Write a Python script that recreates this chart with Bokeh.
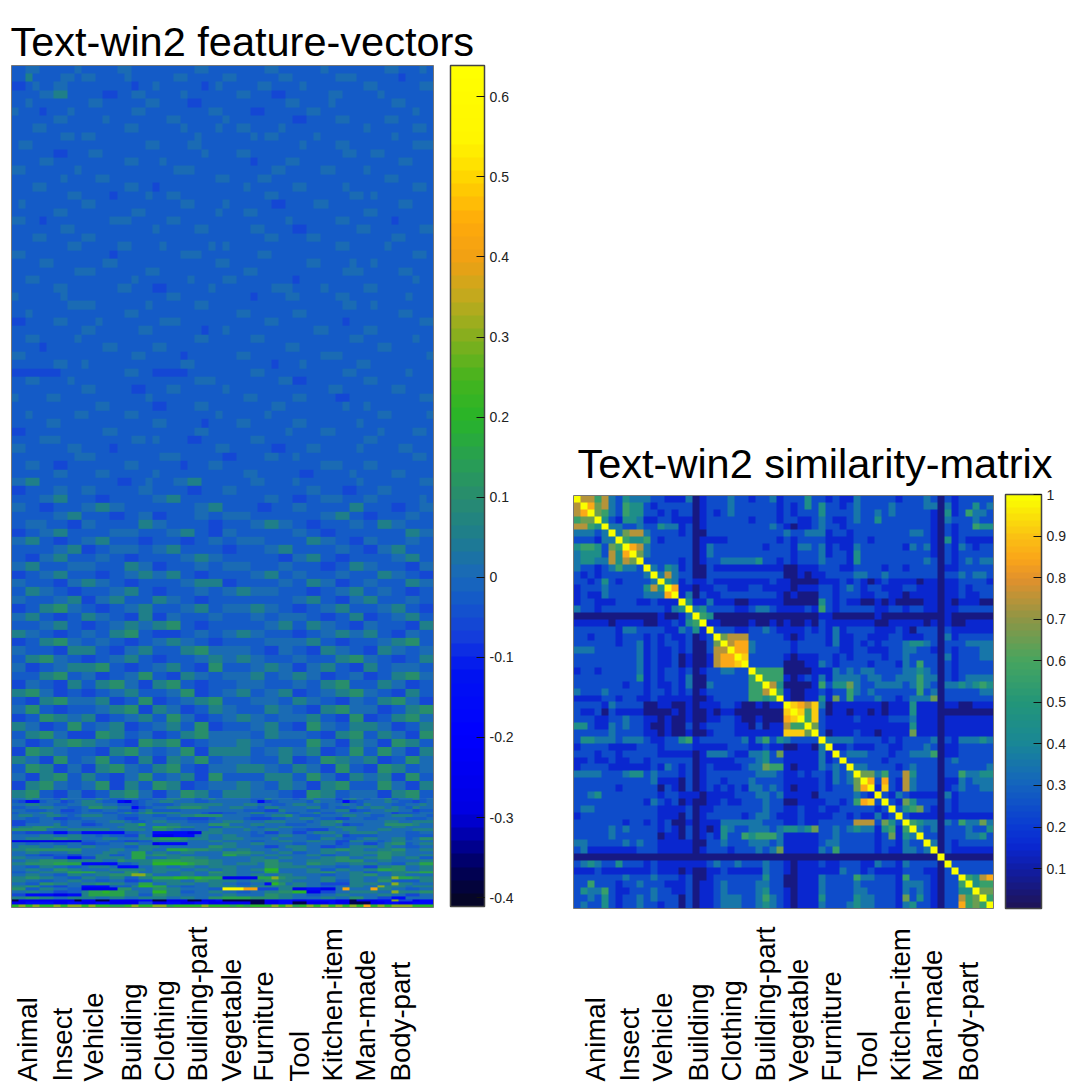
import numpy as np
from bokeh.core.properties import value
from bokeh.embed import file_html
from bokeh.resources import INLINE
from bokeh.models import ColorBar, ColumnDataSource, FixedTicker, LinearColorMapper, Range1d
from bokeh.plotting import figure

CATEGORIES = ["Animal", "Insect", "Vehicle", "Building", "Clothing", "Building-part",
              "Vegetable", "Furniture", "Tool", "Kitchen-item", "Man-made", "Body-part"]
LEFT_TITLE = "Text-win2 feature-vectors"
RIGHT_TITLE = "Text-win2 similarity-matrix"
LEFT_TICKS = [-0.4, -0.3, -0.2, -0.1, 0, 0.1, 0.2, 0.3, 0.4, 0.5, 0.6]
RIGHT_TICKS = [0.1, 0.2, 0.3, 0.4, 0.5, 0.6, 0.7, 0.8, 0.9, 1]

# feature-vector value levels read against the colour bar
FEATURE_LEVELS = {"0": -0.37, "1": -0.25, "2": -0.15, "3": -0.065, "4": -0.025, "5": 0.015, "6": 0.06,
                  "7": 0.1, "8": 0.15, "9": 0.2, "a": 0.3, "b": 0.42, "c": 0.56}

# similarity cell levels: upper triangle, each row starting on its diagonal cell
SIM_LEVELS = {str(d): d / 10 + 0.05 for d in range(10)}
SIM_LEVELS["0"] = 0.06
SIM_LEVELS["9"] = 0.92
SIM_LEVELS["Y"] = 1.0

SIM_ROWS = [
"Y7757 32433 32211 13012 22322 12231 22242 21211 32222 21222 32021 22222",
"Y867 32544 21222 22012 22322 22221 21242 42212 32222 32222 33031 22423",
"Y65 32544 22121 22012 12322 22221 21222 42222 32232 32222 21041 25332",
"Y4 21443 11221 11012 22222 12221 22112 32112 32242 22222 21032 22322",
"Y 33223 22433 12012 22222 22232 10112 32212 22222 22222 21021 22544",
"Y3677 32222 12002 22222 22222 32233 31221 22222 22233 21021 22222",
"Y5445 2122 22011 11222 22221 21222 21111 22122 22222 21041 21111",
"Y873 2222 22013 22222 22122 21332 31211 32222 22132 31021 32122",
"Y63 2222 22013 22222 22222 21222 31221 42222 22222 21021 22222",
"Y2 2222 12012 23333 34221 21222 32221 42222 22222 32021 23233",
"Y3243 12002 11111 11111 00111 22211 22221 22122 22011 22222",
"Y373 22002 22222 22222 00101 12222 33223 22222 22022 32332",
"Y43 12112 11111 11121 10000 11121 21012 11110 11011 22221",
"Y8 11011 22111 22111 10111 22123 21221 11221 11011 21222",
"Y 13021 12222 22221 01000 22122 21122 11011 11011 21122",
"Y4113 11100 11111 00000 42121 10010 10000 11010 11100",
"Y342 22211 23321 11121 52122 22211 22122 11011 22222",
"Y54 00000 00000 00000 11000 00010 00000 00010 00000",
"Y1 10000 10010 10010 21111 11100 11111 01010 01111",
"Y 22211 22321 11121 21312 22211 12102 22021 11111",
"Y6777 22222 10122 21311 22111 22111 22031 22222",
"Y788 32222 21222 21311 21212 22344 32022 23333",
"Y88 32222 21222 22211 22111 22332 21021 22233",
"Y9 22222 10111 22121 22221 22322 22031 22233",
"Y 22222 00011 32122 22122 21325 22021 22222",
"Y5555 00001 11323 23322 22334 32021 22222",
"Y555 10121 31333 32332 23335 33021 23333",
"Y74 00001 52446 32233 33235 32033 43454",
"Y5 10011 21225 32322 22225 23022 22233",
"Y 10011 41625 22232 21233 36022 22222",
"Y9879 30111 11110 11141 11011 00111",
"Y959 20110 11010 11141 11000 00000",
"Y59 21111 21111 22231 11011 11111",
"Y6 21111 11111 11141 11011 11111",
"Y 20111 21101 11161 11011 11111",
"Y3333 22221 21222 23021 33343",
"Y112 11122 11222 32011 22222",
"Y23 33222 12233 35011 22222",
"Y2 22221 22222 22023 22222",
"Y 33222 21232 22022 22223",
"Y6635 22742 22022 53344",
"Y828 21732 22011 32333",
"Y19 21732 22012 32233",
"Y2 13211 11031 22222",
"Y 21642 22021 22222",
"Y2456 21021 22222",
"Y211 11011 11111",
"Y54 33032 53363",
"Y3 23022 23224",
"Y 22022 23342",
"Y3021 22222",
"Y021 11111",
"Y00 00000",
"Y2 22222",
"Y 22222",
"Y5478",
"Y455",
"Y66",
"Y5",
"Y",
]

# upper feature rows: estimated bands, three features each
FEATURE_UPPER = [
"4455444445 4444455444 4444445544 4444445544 4444544444 4445544454",
"4464444554 5544445444 4445544444 5544444455 4444445554 4444434444",
"3345445544 4444444344 5444444345 4444455444 4544444444 5544444455",
"4444556644 4443344554 4444544444 4455444334 4444455444 4454444444",
"4454444444 4554444445 5444433444 4444444445 5444454444 4444554444",
"5444344454 4444444554 4444444455 4444334444 4455444444 4444444544",
"4444445544 4445444444 4455444444 5444444444 3344445544 4445544444",
"4445544444 4444445544 4444544445 4455444454 4444444444 5444444554",
"4444444554 5544444444 4444445444 4444545544 4445444444 4444544444",
"4554444444 4444444445 5444455444 4444444444 4544445544 4444444555",
"4444443344 4554444444 4444444544 4455444444 4444444554 4554444444",
"4444554444 4444445544 4544444444 4444344445 5444444444 4444455444",
"5544444445 4444444444 4445554444 4444444554 4444554444 5444444444",
"4444444544 4455444444 4444444445 5444455444 4444444444 4445544444",
"4445544444 4444445544 3444444444 4445444444 5544444544 4444444554",
"4444444455 4444344445 4455444444 4444445544 4444444455 4544444444",
"4544444444 5544444444 4444554444 5444444334 4445544444 4444455444",
"4444445544 4444444554 4444444445 4445544444 4444444444 5544444444",
"5544344444 4444555444 4455444444 4444444445 4444445544 4444344444",
"4444444554 4444444444 5444445544 4444554444 3344444445 5444444455",
"4445544444 5544444444 4444444444 4444445544 4455444444 4444554444",
"4444444455 4444455444 4544444454 5444444444 4444445544 4445444444",
"5544444444 4444344444 4444555444 4444455444 4444444444 4444444554",
"4444554444 4445544444 4444444445 5444444444 4455444454 4544444444",
"4444444445 5544444445 5444444444 4445544444 4444444555 4444455444",
"4455444444 4444444544 4444454444 5544444444 3444444444 4444444544",
"4444445544 4444455444 3344444454 4444444555 4444544444 5544444444",
"5444444544 4444444444 4455444444 4444344445 5444445544 4444445444",
"4444444455 5544444445 4444445544 4444444444 4444444554 4544444444",
"4454444444 4444445544 4444444444 4455444444 5544444444 4444455444",
"3344445544 4454444444 4555444444 4444445544 4444444344 4444444455",
"4444444444 5544444455 4444444344 5444444444 4445544444 5544444444",
"4455444445 4444444444 4444445544 4444554444 4444444455 4444444544",
"4444344444 4445544444 5544444444 4444444445 5444444444 4455444444",
"5544444444 4444444554 4444344444 4455444444 4444555444 4444444445",
"4444445544 5444444444 4444554444 4444444344 4544444445 5444444444",
"3333333444 4444445544 3333344444 4444554444 4444444554 4444445444",
"4455444454 4444444444 4444445554 4444444455 3344444444 5544444444",
"4444444444 5544444334 4455444444 5444444444 4444455444 4444554444",
"5444455444 4444444445 4444444444 4445544444 5544443344 4444444455",
"4444444444 4455444444 3344445544 4444444554 4444444544 5444444444",
"4454444445 5444445544 4444444445 4444445444 4444444444 4455444445",
"4444455444 4444444444 5544444344 4455444444 5544444445 4444444444",
"3344444444 4445544444 4444445544 4444444445 4444554444 4454444554",
"4444555444 4444444554 5444433444 4444554444 4444444444 5544444444",
"5544444455 4444344444 4444444445 5444444334 4455444445 4444455444",
"4444444445 5544444444 4555444444 3344445544 5444444444 4444444554",
"4455443344 4444445544 4444344455 4444444444 4444555444 5544444444",
"4444445544 4455444444 5444444444 4445544444 4334444454 4444554444",
"5566444444 4444433445 4445566444 4444554444 5444444445 4444444455",
"3344445544 5544444455 4444433444 5544444444 4455444334 4455444444",
"4444556644 4433444444 5566444444 4444445544 3344555444 5544444454",
"5544334444 5566554444 4444445566 4444433444 5544444466 4444334455",
"4444445566 4444334455 3344445544 5555444444 4444556644 3344445544",
"4455544433 5544444466 5544444433 4444556655 4433444455 4466554444",
"3344556644 4444555544 4455664433 5544444444 5544334444 4444446655",
"5566443344 5566444433 4444334455 4455554444 4466554433 5544445544",
"4444445566 3344555544 5566444444 3344445566 4444445544 3355664444",
"4433556644 4455443344 4444556655 4444444433 5566443344 4444556644",
"5566444455 5544446655 3344445544 5555444455 4444334466 5544443355",
"3344556644 4433445566 5566443344 4444556644 5544445544 4466554433",
"5544443355 6655443344 4444556666 3344444455 4466553344 5544446655",
"4466554433 4444556644 3344445544 5566555544 4433445566 4455443344",
"5544445566 3355664444 6655443344 4444444444 5566443355 6644445544",
"3344667755 4433445566 4444556644 5555665544 3344556644 4455664433",
"5566443344 6655443366 3355444455 4444554455 5544334466 3344556644",
"4444556644 3344556655 6677443344 4444445566 4466554433 5544443366",
"6655443344 5544667744 3333445544 5566554444 3344556655 6644335544",
"3344667755 4455443344 5566554433 4444445555 5566443344 4455667744",
"5544443366 6644335566 4444667755 5555443355 4433665544 3366554455",
"4466775544 3344556644 3344445566 5566554444 5544446677 5544334466",
"5533445566 6677443344 5566443377 4444556655 3355664433 6644555544",
"4444667744 5533445577 4433665544 5555664455 6655334455 3344667755",
"3355443366 4466775533 6677443344 4455554444 5544667744 4466553344",
"6677553344 3344556644 4455773344 5566445566 3344556677 5544336644",
"4433667755 5566334477 3344556677 4444555544 6655443355 4466775533",
"5577443344 4455667733 6655334466 5544446655 4433667755 5533446677",
"3344776655 6633445566 4477553344 5566554455 5566443377 3344667755",
"6655334477 4455663344 5566447733 4444556644 3377554466 6655334466",
"4466775533 3377664455 3344667755 5555446655 5544336677 4466553377",
"5533446677 6655443377 6677334455 5566554444 4477553366 5533776644",
"3377665544 4433667755 4455773366 6666445566 5566334477 4477553366",
"6655337744 5577443366 3366557744 5555444466 3344776655 6633447755",
"4477663355 3366775544 6677443355 5566665544 6655337744 3377664455",
"5533667744 6644335577 4455663377 4444446666 4477553366 5566337744",
"3366775544 5577336644 7766334455 5566554466 5533667744 4477553366",
"6677443355 3344667755 3355776644 6666555544 3377664455 5533667744",
]

# lower feature rows: one feature each
FEATURE_LOWER = [
"5565554655 5565445544 5566554565 5555446555 4565553565 4556455645",
"4322455345 6654421345 5665554455 5555423455 5546554234 5556544345",
"5566554455 6665544345 4445666666 5556655445 6655455654 6555445565",
"4455665544 5776655234 5566777655 5665546655 5566454456 5665654655",
"5544455334 5445544356 4444555555 5554443365 5544556634 4556655344",
"4555665444 5554456567 6666555433 4455665554 4556445555 6555344455",
"5665566545 6665544455 4455667777 5555445667 5444555665 5445666554",
"5544553344 5555543355 5544433345 5554333445 5665443355 4455554445",
"3344555455 4455665445 6655544455 6665556665 5545667555 5556655666",
"3355556455 3345556685 5566555577 7555665554 4455665344 5557777655",
"5667776655 5555566655 8877665544 6665545566 5555556665 5555665555",
"7777755566 6666556665 7765445566 5556556655 4433355665 5566555666",
"4433332233 2222224455 2222211666 5555453355 3356665566 6655554455",
"5555665566 5545443365 1112225655 6655445566 5544556344 4455554444",
"5566667766 5556655566 7888766655 6665555655 5544665445 6655664577",
"1111111111 4455443344 6666655566 5555445566 5566553366 5545665555",
"5544554455 3344556655 1222255555 6655665555 4455553455 3356774566",
"5666556655 6655554466 6555555577 6655553356 6655334466 6656554455",
"6677777777 5555665566 5588877766 5566555655 6655667766 5566775566",
"5566555566 5556655885 6655665555 7777665566 4455665566 6677665555",
"5544334433 5566445886 7766555555 8866556655 5566445566 5577665566",
"6655553322 3366665885 5566776655 5555665566 5555667755 6677556644",
"5566777766 6665576666 8888777766 5555667755 5566667777 5566555566",
"6677778888 2222244566 9999987766 5566657766 5577665566 6655446688",
"5544665544 5666522255 6655665566 6655557766 6655554455 3366775566",
"5566557766 5555666665 6666556655 6655669955 5566446655 6688775566",
"4455666688 8866557755 6655665577 6655558855 5566775566 4455667788",
"5566554466 5566777aa7 5555665566 6655665566 5555445566 7755665555",
"6677665544 6655664466 8889989888 1111188a76 6655665566 5566a88766",
"6655445566 5544553344 6666557766 6655667766 5555664466 5577444466",
"5544776655 6677665588 5566665566 5544552975 6655333366 6655a66555",
"6677443355 2222444699 8855445566 6655666666 6655445566 55a6665666",
"7744665544 1111177555 7766555544 cccbb33366 1122115b55 5b66554455",
"5566553344 6889886655 9966445566 5544556677 9911335566 6655a66677",
"3322221122 6888886644 7766555555 6655557766 5544556655 5566553355",
"6677665566 6655665566 6655665577 8888777766 5555665577 5533225555",
"0111111110 1100111122 0011100112 0000001122 1122221101 1122a33122",
"1122221122 1122111133 1122112211 1111001122 0011121100 0112211222",
"9a9a99a9aa 9a99889a99 aa89999a99 9898999a9a 89a9a9a9a9 b9a9aaa999",
]


def palette(stops):
    xs = np.array([s[0] for s in stops], dtype=float)
    t = np.linspace(xs[0], xs[-1], 64)
    out = []
    for v in t:
        rgb = [int(round(np.interp(v, xs, [s[i] for s in stops]))) for i in (1, 2, 3)]
        out.append("#%02x%02x%02x" % tuple(rgb))
    return out


LEFT_STOPS = [(-0.411, 5, 5, 40), (-0.37, 0, 0, 90), (-0.33, 0, 0, 170), (-0.3, 0, 0, 225), (-0.2, 0, 0, 255),
              (-0.12, 0, 20, 240), (-0.08, 20, 60, 220), (-0.03, 20, 90, 200), (0, 25, 105, 185),
              (0.05, 30, 125, 140), (0.1, 40, 140, 110), (0.15, 40, 160, 80), (0.2, 40, 180, 40),
              (0.25, 70, 180, 30), (0.3, 130, 175, 30), (0.35, 190, 170, 30), (0.4, 240, 160, 20),
              (0.45, 255, 170, 10), (0.5, 255, 210, 0), (0.55, 255, 245, 0), (0.639, 255, 255, 0)]
RIGHT_STOPS = [(0.004, 30, 20, 90), (0.1, 15, 30, 170), (0.15, 10, 40, 210), (0.2, 10, 60, 210), (0.3, 20, 100, 190),
               (0.4, 25, 135, 150), (0.5, 35, 150, 120), (0.6, 70, 165, 95), (0.7, 140, 150, 70),
               (0.8, 225, 145, 45), (0.85, 250, 165, 25), (0.9, 250, 190, 20), (1, 250, 255, 0)]


def feature_array(rows):
    return np.array([[FEATURE_LEVELS[c] for c in r.replace(" ", "")[:60].ljust(60, "4")] for r in rows])[::-1]


def similarity_array():
    n = len(SIM_ROWS)
    m = np.zeros((n, n))
    for i, r in enumerate(SIM_ROWS):
        cells = r.replace(" ", "")
        for k, c in enumerate(cells[:n - i]):
            m[i, i + k] = m[i + k, i] = SIM_LEVELS[c]
    return m[::-1]


FONT = "Liberation Sans"
W, H = 1070, 1084     # canvas; the photographed page starts the canvas at its corner


def x_span(a, b, cells):
    per = cells / (b - a)
    return Range1d(-a * per, (W - a) * per)


def y_span(top, bottom, cells):
    per = cells / (bottom - top)
    return Range1d((bottom - H) * per, bottom * per)


p = figure(width=W, height=H, x_range=Range1d(0, W), y_range=Range1d(H, 0),
           output_backend="svg", toolbar_location=None, min_border=0)
p.axis.visible = False
p.grid.visible = False
p.outline_line_color = None

p.extra_x_ranges["lx"] = x_span(11, 433, 60)
p.extra_y_ranges["ly"] = y_span(65, 907, 300)
p.extra_x_ranges["rx"] = x_span(573, 993, 60)
p.extra_y_ranges["ry"] = y_span(495, 908, 60)

left_mapper = LinearColorMapper(palette=palette(LEFT_STOPS), low=-0.411, high=0.639)
right_mapper = LinearColorMapper(palette=palette(RIGHT_STOPS), low=0.004, high=1)

p.image(image=[feature_array(FEATURE_UPPER)], x=0, y=39, dw=60, dh=261, color_mapper=left_mapper,
        x_range_name="lx", y_range_name="ly")
p.image(image=[feature_array(FEATURE_LOWER)], x=0, y=0, dw=60, dh=39, color_mapper=left_mapper,
        x_range_name="lx", y_range_name="ly")
p.quad(left=0, right=60, bottom=0, top=300, fill_color=None, line_color="#777777",
       x_range_name="lx", y_range_name="ly")
p.image(image=[similarity_array()], x=0, y=0, dw=60, dh=60, color_mapper=right_mapper,
        x_range_name="rx", y_range_name="ry")
p.quad(left=0, right=60, bottom=0, top=60, fill_color=None, line_color="#777777",
       x_range_name="rx", y_range_name="ry")


def colorbar(mapper, ticks, labels, x, top, bottom, width, size):
    cb = ColorBar(color_mapper=mapper, ticker=FixedTicker(ticks=ticks), width=width, height=bottom - top,
                  padding=0, margin=0, location=(x, H - bottom),
                  major_label_overrides=dict(zip(ticks, labels)),
                  major_label_text_font=FONT, major_label_text_font_size=size,
                  major_label_text_color="#222222", label_standoff=5,
                  major_tick_in=8, major_tick_line_color="#111111", minor_tick_line_color=None,
                  bar_line_color="#444444", bar_line_width=1.5, background_fill_color=None,
                  border_line_color=None)
    p.add_layout(cb)


colorbar(left_mapper, LEFT_TICKS, ["-0.4", "-0.3", "-0.2", "-0.1", "0", "0.1", "0.2", "0.3", "0.4", "0.5", "0.6"],
         450, 65, 906, 34, "14px")
colorbar(right_mapper, RIGHT_TICKS, ["0.1", "0.2", "0.3", "0.4", "0.5", "0.6", "0.7", "0.8", "0.9", "1"],
         1005, 494, 908, 36, "14px")

# titles, on the canvas pixel range
p.text(x=[10], y=[41], text=[LEFT_TITLE], text_font=value(FONT), text_font_size="41.5px",
       text_align="left", text_baseline="alphabetic", text_color="#000000")
p.text(x=[577], y=[463], text=[RIGHT_TITLE], text_font=value(FONT), text_font_size="41.5px",
       text_align="left", text_baseline="alphabetic", text_color="#000000")


def category_labels(positions, rng):
    src = ColumnDataSource(dict(x=positions, text=CATEGORIES))
    p.text(x="x", y=1081, text="text", source=src, angle=np.pi / 2, text_align="left",
           text_baseline="middle", text_font=value(FONT), text_font_size="27.6px",
           text_color="#000000", x_range_name=rng)


category_labels([2.3, 7.3, 11.7, 17, 21.7, 26.4, 31.3, 35.9, 40.9, 45.6, 50.4, 55.3], "lx")
category_labels([3.1, 8, 12.7, 17.8, 22.5, 27.4, 32.1, 36.9, 42, 46.7, 51.3, 56.4], "rx")

open("out.html", "w").write(file_html(p, INLINE))
